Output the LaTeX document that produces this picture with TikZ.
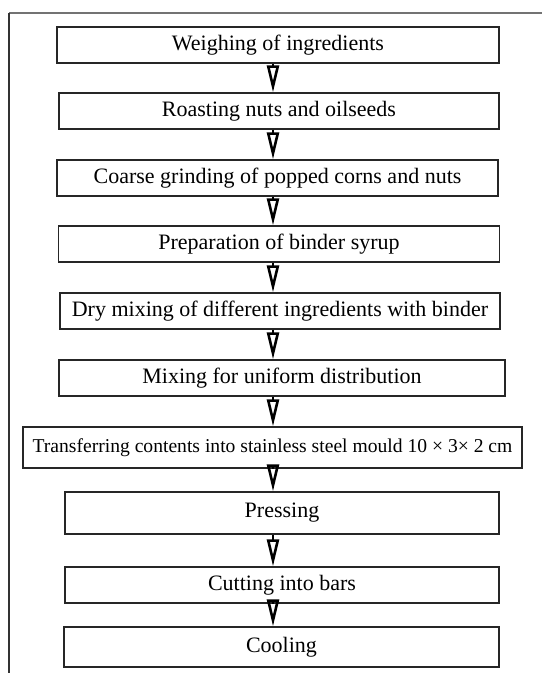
\documentclass[tikz,border=0pt]{standalone}
\usepackage{fontspec}
\setmainfont{Liberation Serif}
\usetikzlibrary{arrows.meta, positioning}

\begin{document}
\begin{tikzpicture}[x=0.5pt, y=-0.5pt,
          box/.style={draw=black!85, line width=0.7pt, inner sep=0pt,
              minimum height=18pt, font=\fontsize{11}{13}\selectfont, align=center},
          arr/.style={-{Triangle[open, length=13.5pt, width=6pt, line width=1.3pt]}, line width=1pt}
        ]
        \useasboundingbox (0,0) rectangle (542,673);
        % open frame
        \draw[black!55, line width=0.75pt] (9,13) -- (542,13);
        \draw[black!80, line width=0.75pt] (9,13) -- (9,673);
        \coordinate (ax) at (273,0);
        \node[box, minimum width=221pt] (weigh) at (278,45)  {Weighing of ingredients};
        \node[box, minimum width=220pt] (roast) at (279,111) {Roasting nuts and oilseeds};
        \node[box, minimum width=220.5pt] (grind) at (277.5,178) {Coarse grinding of popped corns and nuts};
        \node[box, minimum width=220.5pt] (syrup) at (279,244) {Preparation of binder syrup};
        \node[box, minimum width=220pt] (dry)   at (280,311) {Dry mixing of different ingredients with binder};
        \node[box, minimum width=223pt] (mix)   at (282,378) {Mixing for uniform distribution};
        \node[box, minimum width=249.5pt, minimum height=20.5pt,
              font=\fontsize{9.8}{12}\selectfont] (mould) at (272.5,447.5)
              {Transferring contents into stainless steel mould 10 × 3× 2 cm};
        \node[box, minimum width=217pt, minimum height=21pt] (press) at (282,513) {Pressing};
        \node[box, minimum width=217pt] (cut)   at (282,585) {Cutting into bars};
        \node[box, minimum width=217.5pt, minimum height=20pt] (cool) at (281.5,647) {Cooling};
        \draw[arr] (weigh.south -| ax) -- (roast.north -| ax);
        \draw[arr] (roast.south -| ax) -- (grind.north -| ax);
        \draw[arr] (grind.south -| ax) -- (syrup.north -| ax);
        \draw[arr] (syrup.south -| ax) -- (dry.north -| ax);
        \draw[arr] (dry.south -| ax)   -- (mix.north -| ax);
        \draw[arr] (mix.south -| ax)   -- (mould.north -| ax);
        \draw[arr] (mould.south -| ax) -- (press.north -| ax);
        \draw[arr] (press.south -| ax) -- (cut.north -| ax);
        \draw[arr] (cut.south -| ax)   -- (cool.north -| ax);
      \end{tikzpicture}
\end{document}
